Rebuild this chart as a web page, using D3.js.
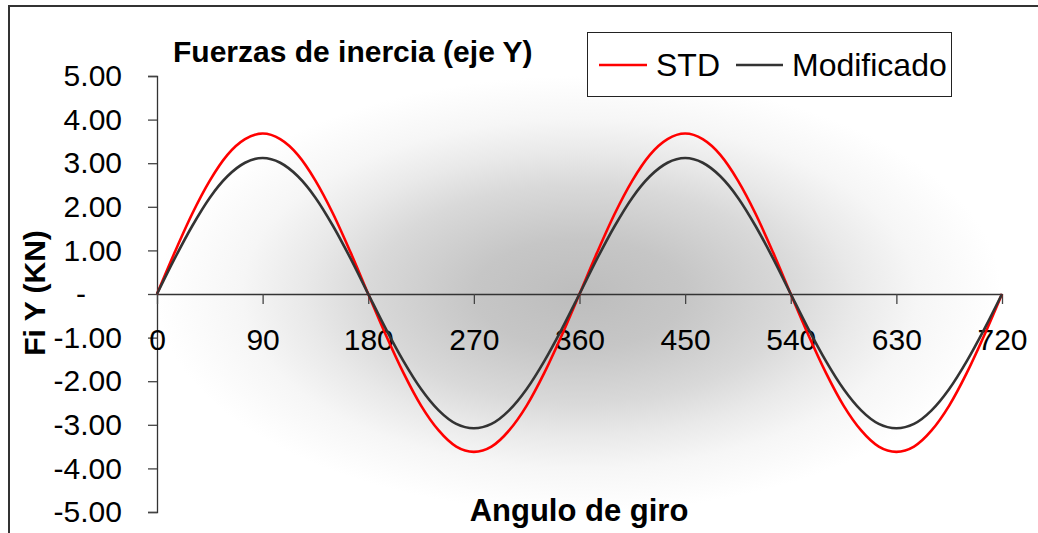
<!DOCTYPE html>
<html>
<head>
<meta charset="utf-8">
<script src="https://cdn.jsdelivr.net/npm/d3@7"></script>
<style>
  body { margin: 0; background: #fff; }
  svg { display: block; font-family: "Liberation Sans", Arial, sans-serif; }
</style>
</head>
<body>
<svg id="chart" width="1038" height="533"></svg>
<script>
// angle of rotation, every 15 degrees
const angles = [0, 15, 30, 45, 60, 75, 90, 105, 120, 135, 150, 165, 180,
  195, 210, 225, 240, 255, 270, 285, 300, 315, 330, 345, 360,
  375, 390, 405, 420, 435, 450, 465, 480, 495, 510, 525, 540,
  555, 570, 585, 600, 615, 630, 645, 660, 675, 690, 705, 720];

const std = [0, 0.95, 1.84, 2.60, 3.19, 3.55, 3.68, 3.55, 3.19, 2.60, 1.84, 0.95, 0,
  -0.94, -1.81, -2.56, -3.13, -3.50, -3.62, -3.50, -3.13, -2.56, -1.81, -0.94, 0,
  0.95, 1.84, 2.60, 3.19, 3.55, 3.68, 3.55, 3.19, 2.60, 1.84, 0.95, 0,
  -0.94, -1.81, -2.56, -3.13, -3.50, -3.62, -3.50, -3.13, -2.56, -1.81, -0.94, 0];

const modificado = [0, 0.81, 1.56, 2.21, 2.70, 3.01, 3.12, 3.01, 2.70, 2.21, 1.56, 0.81, 0,
  -0.80, -1.54, -2.18, -2.67, -2.98, -3.08, -2.98, -2.67, -2.18, -1.54, -0.80, 0,
  0.81, 1.56, 2.21, 2.70, 3.01, 3.12, 3.01, 2.70, 2.21, 1.56, 0.81, 0,
  -0.80, -1.54, -2.18, -2.67, -2.98, -3.08, -2.98, -2.67, -2.18, -1.54, -0.80, 0];

const xTicks = [0, 90, 180, 270, 360, 450, 540, 630, 720];
const yTicks = [-5, -4, -3, -2, -1, 0, 1, 2, 3, 4, 5];

const series = [
  { name: "STD", values: std, color: "#ff0000" },
  { name: "Modificado", values: modificado, color: "#333333" }
];

const svg = d3.select("#chart");
const plot = { left: 157, right: 1002, top: 76, bottom: 512 };

const x = d3.scaleLinear().domain([0, 720]).range([plot.left, plot.right]);
const y = d3.scaleLinear().domain([-5, 5]).range([plot.bottom, plot.top]);

// outer chart border (only top and left visible)
svg.append("path")
  .attr("d", "M9,533 V6 H1038")
  .attr("fill", "none")
  .attr("stroke", "#333")
  .attr("stroke-width", 2);

// plot area gradient, grey in the middle fading to white
const defs = svg.append("defs");
const grad = defs.append("radialGradient")
  .attr("id", "bg")
  .attr("cx", 0.5).attr("cy", 0.5).attr("r", 0.5);
[["0%", "#bdbdbd"], ["25%", "#c6c6c6"], ["50%", "#d9d9d9"],
 ["65%", "#e9e9e9"], ["80%", "#f6f6f6"], ["100%", "#ffffff"]]
  .forEach(s => grad.append("stop").attr("offset", s[0]).attr("stop-color", s[1]));

svg.append("rect")
  .attr("x", plot.left).attr("y", plot.top)
  .attr("width", plot.right - plot.left)
  .attr("height", plot.bottom - plot.top)
  .attr("fill", "url(#bg)");

// y axis
const yAxis = svg.append("g")
  .attr("transform", `translate(${plot.left},0)`)
  .call(d3.axisLeft(y).tickValues(yTicks).tickSize(9).tickPadding(26)
    .tickFormat(d => d === 0 ? "-" : d.toFixed(2)));
yAxis.select(".domain").attr("stroke", "#333").attr("stroke-width", 1.3);
yAxis.selectAll(".tick line").attr("stroke", "#444").attr("stroke-width", 1.3);
yAxis.selectAll(".tick text")
  .attr("font-size", 30)
  .attr("fill", "#000")
  .attr("font-family", "Liberation Sans, Arial, sans-serif");
yAxis.selectAll(".tick").filter(d => d === 0).select("text").attr("x", -71);

// x axis at y = 0
const xAxis = svg.append("g")
  .attr("transform", `translate(0,${y(0)})`)
  .call(d3.axisBottom(x).tickValues(xTicks).tickSize(10).tickPadding(25).tickSizeOuter(0));
xAxis.select(".domain").attr("stroke", "#333").attr("stroke-width", 1.3);
xAxis.selectAll(".tick line").attr("stroke", "#444").attr("stroke-width", 1.3);
xAxis.selectAll(".tick text")
  .attr("font-size", 30)
  .attr("fill", "#000")
  .attr("font-family", "Liberation Sans, Arial, sans-serif");

// lines
const line = d3.line()
  .x((d, i) => x(angles[i]))
  .y(d => y(d))
  .curve(d3.curveMonotoneX);

svg.selectAll(".series")
  .data(series)
  .join("path")
  .attr("class", "series")
  .attr("fill", "none")
  .attr("stroke", d => d.color)
  .attr("stroke-width", 2.6)
  .attr("d", d => line(d.values));

// title
svg.append("text")
  .attr("x", 173).attr("y", 62)
  .attr("font-size", 30)
  .attr("font-weight", "bold")
  .text("Fuerzas de inercia (eje Y)");

// axis titles
svg.append("text")
  .attr("x", 579).attr("y", 521)
  .attr("text-anchor", "middle")
  .attr("font-size", 31)
  .attr("font-weight", "bold")
  .text("Angulo de giro");

svg.append("text")
  .attr("transform", "translate(45,293) rotate(-90)")
  .attr("text-anchor", "middle")
  .attr("font-size", 30)
  .attr("font-weight", "bold")
  .text("Fi Y (KN)");

// legend
const legend = svg.append("g");
legend.append("rect")
  .attr("x", 587.5).attr("y", 32.5)
  .attr("width", 364).attr("height", 64)
  .attr("fill", "#fff")
  .attr("stroke", "#222")
  .attr("stroke-width", 1);

const legendItems = [
  { x1: 599, x2: 647, tx: 656 },
  { x1: 736, x2: 783, tx: 792 }
];
series.forEach((s, i) => {
  const it = legendItems[i];
  legend.append("line")
    .attr("x1", it.x1).attr("x2", it.x2)
    .attr("y1", 65).attr("y2", 65)
    .attr("stroke", s.color)
    .attr("stroke-width", 2.6);
  legend.append("text")
    .attr("x", it.tx).attr("y", 76)
    .attr("font-size", 32)
    .text(s.name);
});
</script>
</body>
</html>
